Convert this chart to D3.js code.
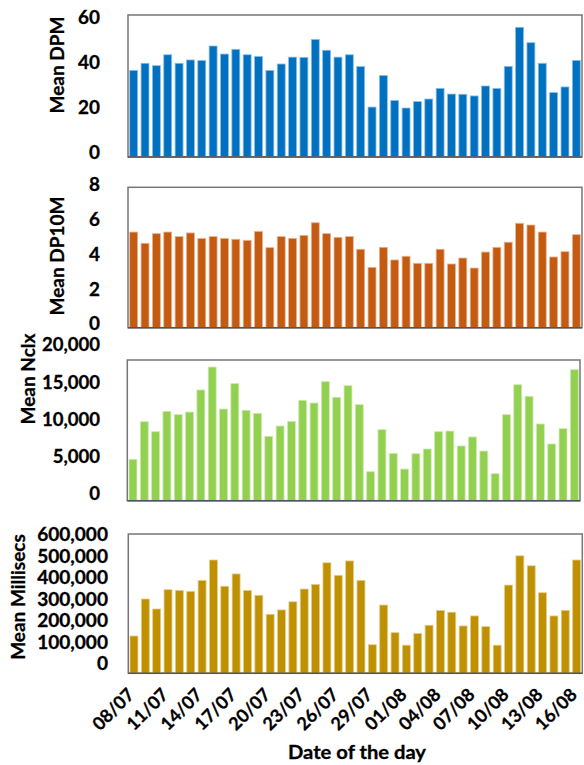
<!DOCTYPE html>
<html>
<head>
<meta charset="utf-8">
<script src="https://cdn.jsdelivr.net/npm/d3@7"></script>
<style>
  html, body { margin: 0; padding: 0; background: #fff; }
  svg { display: block; font-family: Lato, "Open Sans", sans-serif; font-weight: bold; }
  svg text { fill: #000; stroke: #000; stroke-width: 0.3px; }
</style>
</head>
<body>
<svg id="chart" width="584" height="765"></svg>
<script>
// Daily means, 8 July to 16 August
const days = ["08/07","09/07","10/07","11/07","12/07","13/07","14/07","15/07","16/07","17/07",
  "18/07","19/07","20/07","21/07","22/07","23/07","24/07","25/07","26/07","27/07",
  "28/07","29/07","30/07","31/07","01/08","02/08","03/08","04/08","05/08","06/08",
  "07/08","08/08","09/08","10/08","11/08","12/08","13/08","14/08","15/08","16/08"];

const dayTicks = ["08/07","11/07","14/07","17/07","20/07","23/07","26/07","29/07",
  "01/08","04/08","07/08","10/08","13/08","16/08"];

const meanDPM = [36.6,39.6,38.6,43.2,39.6,41.0,40.8,46.9,43.5,45.5,
  43.2,42.5,36.6,39.3,42.2,42.1,49.7,45.1,42.2,43.2,
  38.2,21.1,34.4,23.9,20.7,23.4,24.5,29.0,26.6,26.5,
  25.8,30.0,29.0,38.3,54.8,48.3,39.6,27.2,29.6,40.8];

const meanDP10M = [5.45,4.81,5.36,5.45,5.19,5.40,5.09,5.19,5.09,5.04,
  4.98,5.49,4.56,5.19,5.09,5.26,5.98,5.36,5.15,5.19,
  4.47,3.44,4.58,3.86,4.07,3.67,3.67,4.47,3.63,3.97,
  3.40,4.31,4.58,4.87,5.95,5.85,5.45,4.03,4.33,5.30];

const meanNclx = [5880,11230,9810,12700,12230,12600,15740,19000,13030,16640,
  12850,12420,9150,10620,11280,14270,13890,16920,14700,16350,
  13650,4120,10100,6730,4500,6680,7350,9810,9900,7780,
  9060,7060,3840,12230,16490,14840,10900,8060,10240,18620];

const meanMillisecs = [160600,320000,277000,360000,357000,353000,400000,488000,375000,428000,
  357000,336000,254000,273000,308000,363000,383000,476000,422000,484000,
  400000,123000,294000,175000,121000,171000,207000,271000,263000,204000,
  247000,201000,121000,380000,506000,463000,347000,247000,271000,488000];

const dpmTicks = [0, 20, 40, 60];
const dp10mTicks = [0, 2, 4, 6, 8];
const nclxTicks = [0, 5000, 10000, 15000, 20000];
const millisecsTicks = [0, 100000, 200000, 300000, 400000, 500000, 600000];

// Each panel keeps its own box; the label columns are stretched per panel
const panels = [
  { title: "Mean DPM", values: meanDPM, ticks: dpmTicks, max: 60, color: "#0070C0",
    box: [128, 582, 15, 157], lab: [17.5, 152.5], labX: 100, labStretch: 1.05,
    titlePos: [57, 65], titleFs: 19 },
  { title: "Mean DP10M", values: meanDP10M, ticks: dp10mTicks, max: 8, color: "#C55A11",
    box: [128, 582, 187.3, 327.7], lab: [185, 324], labX: 100, labStretch: 1.05,
    titlePos: [57, 256], titleFs: 19 },
  { title: "Mean Nclx", values: meanNclx, ticks: nclxTicks, max: 20000, color: "#92D050",
    box: [127.3, 580, 360, 500.7], lab: [345, 494], labX: 100, labStretch: 1.03,
    titlePos: [28, 379], titleFs: 19 },
  { title: "Mean Millisecs", values: meanMillisecs, ticks: millisecsTicks, max: 600000, color: "#BF9000",
    box: [128.3, 582.3, 534, 673.3], lab: [535, 664], labX: 108, labStretch: 1.06,
    titlePos: [18, 597], titleFs: 19 }
];

const svg = d3.select("#chart");
const fmt = d3.format(",");

panels.forEach((p, i) => {
  const [x0, x1, yTop, yBot] = p.box;
  const x = d3.scaleBand().domain(days).range([x0, x1]).paddingInner(0.3).paddingOuter(0.15);
  const y = d3.scaleLinear().domain([0, p.max]).range([yBot, yTop]);
  const yLab = d3.scaleLinear().domain([0, p.max]).range([p.lab[1], p.lab[0]]);

  const g = svg.append("g");

  // plot frame
  g.append("rect")
    .attr("x", x0).attr("y", yTop)
    .attr("width", x1 - x0).attr("height", yBot - yTop)
    .attr("fill", "#fff").attr("stroke", "#767676").attr("stroke-width", 1.5);

  // bars
  const edge = d3.interpolateRgb(p.color, "#ffffff")(0.55);
  g.selectAll("rect.bar").data(p.values).join("rect")
    .attr("class", "bar")
    .attr("x", (d, j) => x(days[j]))
    .attr("width", x.bandwidth())
    .attr("y", d => y(d))
    .attr("height", d => y(0) - y(d))
    .attr("fill", p.color)
    .attr("stroke", edge).attr("stroke-width", 0.8);

  // baseline
  g.append("line")
    .attr("x1", x0).attr("x2", x1).attr("y1", yBot).attr("y2", yBot)
    .attr("stroke", "#555").attr("stroke-width", 1.5);

  // value axis labels
  const ya = g.append("g")
    .attr("transform", `translate(${p.labX},0)`)
    .call(d3.axisLeft(yLab).tickValues(p.ticks).tickFormat(fmt).tickSize(0).tickPadding(0));
  ya.select(".domain").remove();
  ya.selectAll("text")
    .attr("font-size", 18).attr("font-family", "Lato, sans-serif").attr("font-weight", "bold")
    .each(function () {
      const len = this.getComputedTextLength();
      d3.select(this).attr("textLength", len * p.labStretch).attr("lengthAdjust", "spacingAndGlyphs");
    });

  // axis title
  g.append("text")
    .attr("transform", `translate(${p.titlePos[0]},${p.titlePos[1]}) rotate(-90)`)
    .attr("text-anchor", "middle").attr("dy", "0.35em")
    .attr("font-size", p.titleFs)
    .text(p.title);

  // date axis on the last panel
  if (i === panels.length - 1) {
    const xa = g.append("g")
      .attr("transform", `translate(0,${yBot})`)
      .call(d3.axisBottom(x).tickValues(dayTicks).tickSize(0));
    xa.select(".domain").remove();
    xa.selectAll("text")
      .attr("font-size", 18).attr("font-family", "Lato, sans-serif").attr("font-weight", "bold")
      .attr("text-anchor", "end")
      .attr("x", -15).attr("y", 17).attr("dy", null)
      .attr("transform", "rotate(-45)");
  }
});

svg.append("text")
  .attr("x", 357).attr("y", 759)
  .attr("text-anchor", "middle")
  .attr("font-size", 18)
  .attr("textLength", 138).attr("lengthAdjust", "spacingAndGlyphs")
  .text("Date of the day");
</script>
</body>
</html>
